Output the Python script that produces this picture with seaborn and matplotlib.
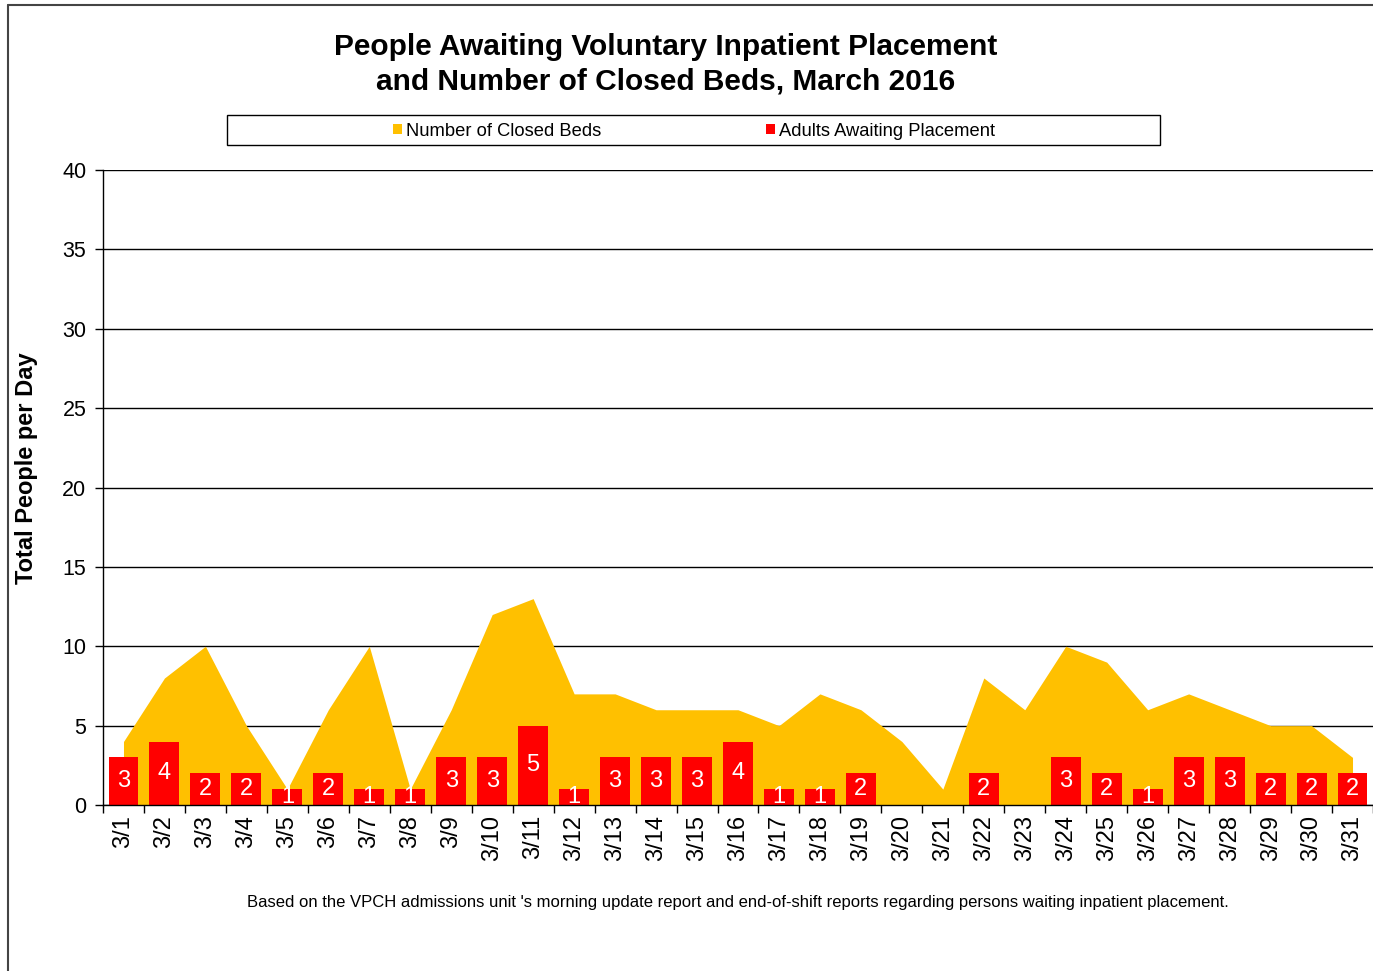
import numpy as np
import pandas as pd
import matplotlib.pyplot as plt
import seaborn as sns
from matplotlib.patches import Patch, Rectangle
from matplotlib.lines import Line2D

days = ['3/%d' % d for d in range(1, 32)]
closed_beds = [4, 8, 10, 5, 1, 6, 10, 1, 6, 12, 13, 7, 7, 6, 6, 6, 5, 7, 6, 4,
               1, 8, 6, 10, 9, 6, 7, 6, 5, 5, 3]
adults_waiting = [3, 4, 2, 2, 1, 2, 1, 1, 3, 3, 5, 1, 3, 3, 3, 4, 1, 1, 2, 0,
                  0, 2, 0, 3, 2, 1, 3, 3, 2, 2, 2]

df = pd.DataFrame({'Day': days, 'Closed': closed_beds, 'Waiting': adults_waiting})

sns.set_style('white')
plt.rcParams['font.family'] = ['Liberation Sans', 'DejaVu Sans']
plt.rcParams['text.color'] = 'black'
plt.rcParams['xtick.color'] = 'black'
plt.rcParams['ytick.color'] = 'black'
plt.rcParams['axes.labelcolor'] = 'black'

fig = plt.figure(figsize=(13.73, 9.71), dpi=100)
ax = fig.add_axes([103 / 1373, 1 - 805 / 971, 1 - 103 / 1373, (805 - 170) / 971])

x = np.arange(len(days))
ax.fill_between(x, 0, df['Closed'], color='#FFC000', linewidth=0, zorder=1)
sns.barplot(data=df, x='Day', y='Waiting', color='#FF0000', saturation=1,
            width=0.73, edgecolor='none', ax=ax, zorder=2)

for i, v in enumerate(adults_waiting):
    if v > 0:
        ax.text(i, v / 2, str(v), ha='center', va='center', color='white',
                fontsize=17, clip_on=True, zorder=3)

ax.set_xlim(-0.5, len(days) - 0.5)
ax.set_ylim(0, 40)
ax.set_yticks(np.arange(0, 45, 5))
ax.yaxis.grid(True, color='black', linewidth=1)
ax.set_axisbelow(True)
ax.set_xticks(x)
ax.set_xticklabels(days, rotation=90, fontsize=17)
ax.set_xticks(np.arange(-0.5, len(days), 1), minor=True)
ax.tick_params(axis='x', which='major', length=0, pad=7)
ax.tick_params(axis='x', which='minor', length=6, width=1, color='black', direction='out', bottom=True)
ax.tick_params(axis='y', length=6, width=1, color='black', direction='out', left=True, labelsize=15.5, pad=6)
ax.set_xlabel('')
ax.set_ylabel('Total People per Day', fontsize=17, fontweight='bold')
ax.yaxis.set_label_coords(-0.051, 0.531)
for s in ['top', 'right']:
    ax.spines[s].set_visible(False)
for s in ['left', 'bottom']:
    ax.spines[s].set_color('black')
    ax.spines[s].set_linewidth(1)
    ax.spines[s].set_zorder(5)

fig.text(666 / 1373, 1 - 64 / 971, 'People Awaiting Voluntary Inpatient Placement\nand Number of Closed Beds, March 2016',
         ha='center', va='center', fontsize=21.5, fontweight='bold', linespacing=1.3)

# legend box
fig.add_artist(Rectangle((227 / 1373, 1 - 145 / 971), (1160 - 227) / 1373, 30 / 971,
                         transform=fig.transFigure, facecolor='white', edgecolor='black', linewidth=1))
handles = [Patch(facecolor='#FFC000', edgecolor='none', label='Number of Closed Beds'),
           Patch(facecolor='#FF0000', edgecolor='none', label='Adults Awaiting Placement')]
fig.legend(handles=handles, loc='center', bbox_to_anchor=(694 / 1373, 1 - 131 / 971), ncol=2,
           frameon=False, fontsize=13.2, handlelength=0.5, handleheight=0.5, handletextpad=0.2,
           columnspacing=9.0)

fig.text(738 / 1373, 1 - 902 / 971,
         "Based on the VPCH admissions unit 's morning update report and end-of-shift reports regarding persons waiting inpatient placement.",
         ha='center', va='center', fontsize=12)

# outer frame
fig.add_artist(Line2D([8 / 1373, 1], [1 - 5 / 971, 1 - 5 / 971], transform=fig.transFigure, color='#444444', linewidth=1.5))
fig.add_artist(Line2D([8 / 1373, 8 / 1373], [0, 1 - 5 / 971], transform=fig.transFigure, color='#444444', linewidth=1.5))

fig.savefig('out.png', dpi=100)
